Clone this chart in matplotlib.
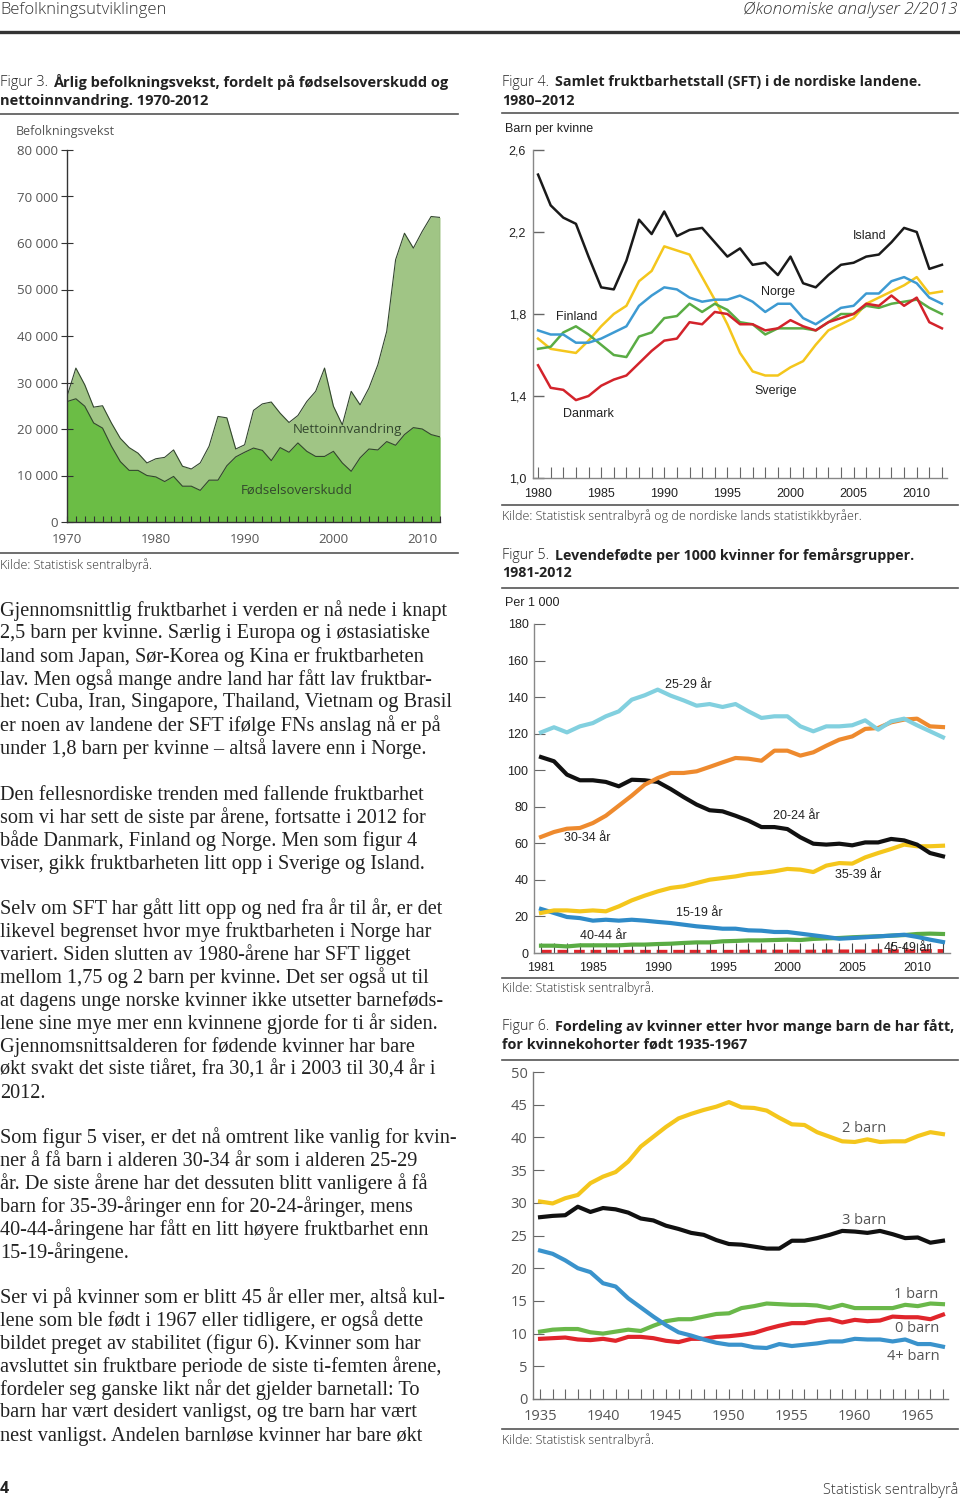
import matplotlib.pyplot as plt
from matplotlib.lines import Line2D

W, H = 960, 1502

# Figur 3: befolkningsvekst 1970-2012
years3 = list(range(1970, 2013))
fodsel = [25900, 26500, 24900, 21300, 20200, 16300, 13000, 11100, 11100, 10000,
          9700, 8700, 9800, 7700, 7700, 6800, 9000, 9000, 12100, 14000,
          15000, 15900, 15400, 13200, 16000, 15000, 17000, 15200, 14100, 14100,
          15200, 12700, 10900, 13800, 15700, 15500, 17300, 16500, 18800, 20300,
          20000, 18800, 18300]
total = [27000, 33100, 29500, 24700, 25000, 21300, 18000, 16000, 14800, 12700,
         13600, 13900, 15500, 12000, 11400, 12700, 16300, 22700, 22400, 15700,
         16600, 24000, 25400, 25800, 23400, 21400, 22900, 25900, 28100, 33100,
         24900, 20900, 28100, 25200, 28800, 33800, 41000, 56400, 62100, 58900,
         62500, 65700, 65500]

# Figur 4: SFT i de nordiske landene 1980-2012
years4 = list(range(1980, 2013))
island = [2.48, 2.33, 2.27, 2.24, 2.08, 1.93, 1.92, 2.06, 2.26, 2.19,
          2.30, 2.18, 2.21, 2.22, 2.15, 2.08, 2.12, 2.04, 2.05, 1.99,
          2.08, 1.95, 1.93, 1.99, 2.04, 2.05, 2.08, 2.09, 2.15, 2.22,
          2.20, 2.02, 2.04]
norge = [1.72, 1.70, 1.70, 1.66, 1.66, 1.68, 1.71, 1.74, 1.84, 1.89,
         1.93, 1.92, 1.88, 1.86, 1.87, 1.87, 1.89, 1.86, 1.81, 1.85,
         1.85, 1.78, 1.75, 1.79, 1.83, 1.84, 1.90, 1.90, 1.96, 1.98,
         1.95, 1.88, 1.85]
sverige = [1.68, 1.63, 1.62, 1.61, 1.67, 1.74, 1.80, 1.84, 1.96, 2.01,
           2.13, 2.11, 2.09, 1.98, 1.87, 1.75, 1.61, 1.52, 1.50, 1.50,
           1.54, 1.57, 1.65, 1.72, 1.75, 1.78, 1.85, 1.88, 1.91, 1.94,
           1.98, 1.90, 1.91]
finland = [1.63, 1.64, 1.71, 1.74, 1.70, 1.65, 1.60, 1.59, 1.69, 1.71,
           1.78, 1.79, 1.85, 1.81, 1.85, 1.82, 1.76, 1.75, 1.70, 1.73,
           1.73, 1.73, 1.72, 1.76, 1.80, 1.80, 1.84, 1.83, 1.85, 1.86,
           1.87, 1.83, 1.80]
danmark = [1.55, 1.44, 1.43, 1.38, 1.40, 1.45, 1.48, 1.50, 1.56, 1.62,
           1.67, 1.68, 1.76, 1.75, 1.81, 1.80, 1.75, 1.75, 1.72, 1.73,
           1.77, 1.74, 1.72, 1.76, 1.78, 1.80, 1.85, 1.84, 1.89, 1.84,
           1.88, 1.76, 1.73]

# Figur 5: levendefødte per 1000 kvinner 1981-2012
years5 = list(range(1981, 2013))
a2529 = [120.7, 123.5, 120.7, 124.0, 125.8, 129.5, 132.2, 138.6, 141.0,
         144.1, 140.8, 138.2, 135.3, 136.2, 134.6, 136.2, 132.2, 128.6, 129.5,
         129.5, 124.0, 121.3, 124.0, 124.0, 124.6, 127.3, 122.2, 126.7, 128.2,
         124.6, 121.3, 118.0]
a3034 = [63.5, 66.2, 68.0, 68.4, 71.1, 75.1, 80.6, 86.1, 92.1,
         95.7, 98.5, 98.5, 99.4, 101.8, 104.3, 106.7, 106.3, 105.2, 110.7,
         110.7, 108.0, 109.8, 113.4, 116.7, 118.5, 122.6, 123.1, 126.2, 127.7,
         128.2, 124.0, 123.6]
a2024 = [107.2, 104.9, 97.6, 94.5, 94.5, 93.6, 91.2, 94.8, 94.5,
         93.6, 89.7, 85.3, 81.2, 78.1, 77.5, 75.1, 72.4, 68.9, 68.9,
         67.8, 63.3, 59.8, 59.3, 59.8, 58.9, 60.5, 60.5, 62.4, 61.6,
         59.3, 54.7, 52.9]
a3539 = [21.9, 23.3, 23.3, 22.8, 23.3, 22.8, 25.5, 28.8, 31.4,
         33.7, 35.6, 36.5, 38.3, 40.1, 41.0, 41.9, 43.2, 43.8, 44.7,
         46.0, 45.6, 44.3, 47.8, 49.2, 48.9, 52.3, 54.7, 56.9, 59.3,
         58.4, 58.4, 58.7]
a1519 = [24.1, 21.9, 19.7, 19.1, 17.7, 18.2, 17.7, 18.2, 17.7,
         17.0, 16.4, 15.5, 14.6, 14.0, 13.3, 13.3, 12.4, 12.2, 11.5,
         11.5, 10.6, 9.7, 8.8, 7.8, 8.2, 8.6, 9.1, 9.5, 10.0,
         8.8, 7.3, 6.0]
a4044 = [4.0, 4.0, 3.6, 4.2, 4.2, 4.2, 4.2, 4.6, 4.6,
         4.9, 5.1, 5.5, 5.8, 5.8, 6.4, 6.6, 6.9, 6.9, 7.1,
         7.3, 7.1, 7.7, 8.0, 8.2, 8.6, 8.9, 9.1, 9.5, 9.8,
         10.4, 10.6, 10.4]
a4549 = [0.4, 0.4, 0.4, 0.4, 0.4, 0.4, 0.4, 0.4, 0.4,
         0.4, 0.4, 0.4, 0.4, 0.4, 0.4, 0.4, 0.5, 0.5, 0.5,
         0.5, 0.5, 0.5, 0.6, 0.6, 0.6, 0.6, 0.7, 0.7, 0.7,
         0.7, 0.8, 0.8]

# Figur 6: kvinner etter antall barn, kohorter 1935-1967
years6 = list(range(1935, 1968))
barn2 = [30.2, 29.9, 30.7, 31.2, 33.0, 34.0, 34.7, 36.3, 38.6, 40.1,
         41.6, 42.9, 43.6, 44.2, 44.7, 45.4, 44.6, 44.5, 44.1, 43.0,
         42.0, 41.9, 40.8, 40.1, 39.4, 39.3, 39.7, 39.3, 39.4, 39.4,
         40.2, 40.8, 40.5]
barn3 = [27.8, 28.0, 28.1, 29.4, 28.6, 29.2, 29.0, 28.5, 27.6, 27.3,
         26.5, 26.0, 25.4, 25.1, 24.3, 23.7, 23.6, 23.3, 23.0, 23.0,
         24.2, 24.2, 24.6, 25.1, 25.7, 25.6, 25.4, 25.7, 25.2, 24.6,
         24.7, 23.9, 24.2]
barn4 = [22.7, 22.2, 21.2, 20.0, 19.4, 17.7, 17.2, 15.4, 14.0, 12.6,
         11.3, 10.2, 9.7, 9.1, 8.6, 8.3, 8.3, 7.9, 7.8, 8.4,
         8.1, 8.3, 8.5, 8.8, 8.8, 9.2, 9.1, 9.1, 8.8, 9.1,
         8.4, 8.4, 8.0]
barn1 = [10.3, 10.6, 10.7, 10.7, 10.2, 10.0, 10.3, 10.6, 10.4, 11.2,
         11.9, 12.2, 12.2, 12.6, 13.0, 13.1, 13.9, 14.2, 14.6, 14.5,
         14.4, 14.4, 14.3, 13.9, 14.4, 13.9, 13.9, 13.9, 13.9, 14.4,
         14.2, 14.6, 14.5]
barn0 = [9.2, 9.3, 9.4, 9.1, 9.0, 9.2, 8.9, 9.5, 9.5, 9.3,
         8.9, 8.7, 9.2, 9.2, 9.5, 9.6, 9.8, 10.1, 10.7, 11.2,
         11.6, 11.6, 12.0, 12.2, 11.7, 12.1, 11.9, 12.0, 12.6, 12.5,
         12.5, 12.2, 12.9]

body = [
    (611, ["Gjennomsnittlig fruktbarhet i verden er nå nede i knapt",
           "2,5 barn per kvinne. Særlig i Europa og i østasiatiske",
           "land som Japan, Sør-Korea og Kina er fruktbarheten",
           "lav. Men også mange andre land har fått lav fruktbar-",
           "het: Cuba, Iran, Singapore, Thailand, Vietnam og Brasil",
           "er noen av landene der SFT ifølge FNs anslag nå er på",
           "under 1,8 barn per kvinne – altså lavere enn i Norge."]),
    (795, ["Den fellesnordiske trenden med fallende fruktbarhet",
           "som vi har sett de siste par årene, fortsatte i 2012 for",
           "både Danmark, Finland og Norge. Men som figur 4",
           "viser, gikk fruktbarheten litt opp i Sverige og Island."]),
    (909, ["Selv om SFT har gått litt opp og ned fra år til år, er det",
           "likevel begrenset hvor mye fruktbarheten i Norge har",
           "variert. Siden slutten av 1980-årene har SFT ligget",
           "mellom 1,75 og 2 barn per kvinne. Det ser også ut til",
           "at dagens unge norske kvinner ikke utsetter barneføds-",
           "lene sine mye mer enn kvinnene gjorde for ti år siden.",
           "Gjennomsnittsalderen for fødende kvinner har bare",
           "økt svakt det siste tiåret, fra 30,1 år i 2003 til 30,4 år i",
           "2012."]),
    (1138, ["Som figur 5 viser, er det nå omtrent like vanlig for kvin-",
            "ner å få barn i alderen 30-34 år som i alderen 25-29",
            "år. De siste årene har det dessuten blitt vanligere å få",
            "barn for 35-39-åringer enn for 20-24-åringer, mens",
            "40-44-åringene har fått en litt høyere fruktbarhet enn",
            "15-19-åringene."]),
    (1298, ["Ser vi på kvinner som er blitt 45 år eller mer, altså kul-",
            "lene som ble født i 1967 eller tidligere, er også dette",
            "bildet preget av stabilitet (figur 6). Kvinner som har",
            "avsluttet sin fruktbare periode de siste ti-femten årene,",
            "fordeler seg ganske likt når det gjelder barnetall: To",
            "barn har vært desidert vanligst, og tre barn har vært",
            "nest vanligst. Andelen barnløse kvinner har bare økt"]),
]

SANS = 'Open Sans'
ARIAL = 'Liberation Sans'
SERIF = 'Liberation Serif'
GREY = '#555555'

fig = plt.figure(figsize=(W / 100, H / 100), dpi=100)
fig.patch.set_facecolor('white')


def add_ax(x0, y0, x1, y1):
    # pixel box, y counted from the top of the page
    return fig.add_axes([x0 / W, 1 - y1 / H, (x1 - x0) / W, (y1 - y0) / H])


def txt(x, y, s, **kw):
    kw.setdefault('va', 'center')
    fig.text(x / W, 1 - y / H, s, **kw)


def hline(x0, x1, y, lw=1.2, color='#555555'):
    fig.add_artist(Line2D([x0 / W, x1 / W], [1 - y / H] * 2, lw=lw, color=color))


def style(ax, color='#777777'):
    ax.set_facecolor('none')
    for s in ['top', 'right']:
        ax.spines[s].set_visible(False)
    for s in ['left', 'bottom']:
        ax.spines[s].set_color(color)
        ax.spines[s].set_linewidth(1)


def title(x, y1, y2, num, line1, line2, size=10.4):
    txt(x, y1, num, fontsize=size, family=SANS, color='#222222', fontweight='light')
    txt(x + 53, y1, line1, fontsize=size, family=SANS, color='#222222', fontweight='bold')
    txt(x, y2, line2, fontsize=size, family=SANS, color='#222222', fontweight='bold')


# page header / footer
txt(0, 10, "Befolkningsutviklingen", fontsize=12, family=SANS, color='#333333', fontweight='light')
txt(958, 10, "Økonomiske analyser 2/2013", fontsize=12.5, family=SANS, color='#333333',
    style='italic', ha='right', fontweight='light')
hline(0, 958, 32, lw=2.4, color='#333333')
txt(0, 1489, "4", fontsize=11.5, family=SANS, fontweight='bold', color='#222222')
txt(958, 1490, "Statistisk sentralbyrå", fontsize=10.5, family=SANS, color='#333333',
    ha='right', fontweight='light')

# body text
for y0, lines in body:
    for i, line in enumerate(lines):
        txt(0, y0 + i * 23, line, fontsize=14.6, family=SERIF, color='#222222')

# ---------------- Figur 3 ----------------
title(0, 82, 101, "Figur 3.", "Årlig befolkningsvekst, fordelt på fødselsoverskudd og",
      "nettoinnvandring. 1970-2012", size=10.5)
hline(0, 458, 114)
txt(16, 131, "Befolkningsvekst", fontsize=9, family=SANS, color=GREY)
ax3 = add_ax(67, 150, 440, 522)
style(ax3, '#333333')
ax3.fill_between(years3, 0, total, color='#a0c585', lw=0)
ax3.fill_between(years3, 0, fodsel, color='#6bbd45', lw=0)
ax3.plot(years3, total, color='#33472e', lw=0.8)
ax3.plot(years3, fodsel, color='#33472e', lw=0.8)
ax3.plot([years3[-1]] * 2, [0, total[-1]], color='#33472e', lw=0.8)
ax3.set_xlim(1970, 2012)
ax3.set_ylim(0, 80000)
ax3.set_yticks(range(0, 80001, 10000))
ax3.set_yticklabels(['0' if v == 0 else f"{v // 1000} 000" for v in range(0, 80001, 10000)])
ax3.set_xticks(range(1970, 2011, 10))
ax3.set_xticks(years3, minor=True)
ax3.tick_params(axis='y', direction='inout', length=9, width=0.8, color='#333333',
                labelsize=9.5, labelcolor=GREY, pad=2)
ax3.tick_params(axis='x', which='both', direction='in', length=4, width=0.8,
                color='#333333', labelsize=9.5, labelcolor=GREY, pad=8)
for lab in ax3.get_xticklabels() + ax3.get_yticklabels():
    lab.set_family(SANS)
txt(347, 429, "Nettoinnvandring", fontsize=9.5, family=SANS, color='#33472e', ha='center')
txt(297, 490, "Fødselsoverskudd", fontsize=9.5, family=SANS, color='#33472e', ha='center')
hline(0, 458, 553)
txt(0, 565, "Kilde: Statistisk sentralbyrå.", fontsize=9, family=SANS, color='#333333',
    fontweight='light')

# ---------------- Figur 4 ----------------
title(502, 82, 101, "Figur 4.", "Samlet fruktbarhetstall (SFT) i de nordiske landene.",
      "1980–2012", size=10.3)
hline(502, 958, 113)
txt(505, 129, "Barn per kvinne", fontsize=9, family=ARIAL, color='#222222')
ax4 = add_ax(533, 150, 947, 478)
style(ax4, '#888888')
ax4.plot(years4, island, color='#1a1a1a', lw=1.8)
ax4.plot(years4, sverige, color='#f4c61c', lw=1.8)
ax4.plot(years4, finland, color='#5aac44', lw=1.8)
ax4.plot(years4, norge, color='#3d9ad2', lw=1.8)
ax4.plot(years4, danmark, color='#d3232b', lw=1.8)
ax4.set_xlim(1979.6, 2012.4)
ax4.set_ylim(1.0, 2.6)
ax4.set_yticks([1.0, 1.4, 1.8, 2.2, 2.6])
ax4.set_yticklabels(['1,0', '1,4', '1,8', '2,2', '2,6'])
ax4.set_xticks(range(1980, 2011, 5))
ax4.set_xticks(years4, minor=True)
ax4.tick_params(axis='y', direction='in', length=8, width=1, color='#666666',
                labelsize=9, labelcolor='#222222', pad=5)
ax4.tick_params(axis='x', which='both', direction='in', length=8, width=0.8,
                color='#666666', labelsize=9, labelcolor='#222222', pad=7)
for lab in ax4.get_xticklabels() + ax4.get_yticklabels():
    lab.set_family(ARIAL)
for name, x, y in [("Island", 870, 236), ("Norge", 778, 292), ("Finland", 577, 317),
                   ("Sverige", 776, 391), ("Danmark", 588, 414)]:
    txt(x, y, name, fontsize=9, family=ARIAL, color='#222222', ha='center')
hline(502, 958, 505)
txt(502, 516, "Kilde: Statistisk sentralbyrå og de nordiske lands statistikkbyråer.",
    fontsize=9, family=SANS, color='#333333', fontweight='light')

# ---------------- Figur 5 ----------------
title(502, 555, 573, "Figur 5.", "Levendefødte per 1000 kvinner for femårsgrupper.",
      "1981-2012", size=10.3)
hline(502, 958, 588)
txt(505, 603, "Per 1 000", fontsize=9, family=ARIAL, color='#222222')
ax5 = add_ax(534, 624, 950, 953)
style(ax5, '#888888')
ax5.plot(years5, a4549, color='#e0252b', lw=3.5, ls=(0, (2.2, 1.2)), zorder=1)
ax5.plot(years5, a4044, color='#5aac44', lw=3)
ax5.plot(years5, a1519, color='#2f8bc8', lw=3)
ax5.plot(years5, a3539, color='#f4c61c', lw=3)
ax5.plot(years5, a2024, color='#111111', lw=3)
ax5.plot(years5, a3034, color='#ee8a2e', lw=3)
ax5.plot(years5, a2529, color='#82d0df', lw=3)
ax5.set_xlim(1980.46, 2012.54)
ax5.set_ylim(0, 180)
ax5.set_yticks(range(0, 181, 20))
ax5.set_xticks([1981, 1985, 1990, 1995, 2000, 2005, 2010])
ax5.set_xticks(years5, minor=True)
ax5.tick_params(axis='y', direction='in', length=8, width=0.8, color='#666666',
                labelsize=9, labelcolor='#222222', pad=4)
ax5.tick_params(axis='x', which='both', direction='in', length=7, width=0.8,
                color='#444444', labelsize=9, labelcolor='#222222', pad=6.5)
for lab in ax5.get_xticklabels() + ax5.get_yticklabels():
    lab.set_family(ARIAL)
for name, x, y in [("25-29 år", 688, 685), ("30-34 år", 587, 838), ("20-24 år", 796, 816),
                   ("35-39 år", 858, 875), ("15-19 år", 699, 913), ("40-44 år", 603, 936),
                   ("45-49 år", 907, 948)]:
    txt(x, y, name, fontsize=9, family=ARIAL, color='#222222', ha='center')
hline(502, 958, 978)
txt(502, 988, "Kilde: Statistisk sentralbyrå.", fontsize=9, family=SANS, color='#333333',
    fontweight='light')

# ---------------- Figur 6 ----------------
title(502, 1027, 1045, "Figur 6.", "Fordeling av kvinner etter hvor mange barn de har fått,",
      "for kvinnekohorter født 1935-1967", size=10.35)
hline(502, 958, 1060)
ax6 = add_ax(533, 1072, 948, 1399)
style(ax6, '#777777')
ax6.plot(years6, barn0, color='#e0252b', lw=3)
ax6.plot(years6, barn1, color='#6ab84a', lw=3)
ax6.plot(years6, barn4, color='#3a93cc', lw=3)
ax6.plot(years6, barn3, color='#111111', lw=3)
ax6.plot(years6, barn2, color='#f4c61c', lw=3)
ax6.set_xlim(1934.44, 1967.4)
ax6.set_ylim(0, 50)
ax6.set_yticks(range(0, 51, 5))
ax6.set_xticks(range(1935, 1966, 5))
ax6.set_xticks(years6, minor=True)
ax6.tick_params(axis='y', direction='in', length=8, width=0.8, color='#666666',
                labelsize=10.5, labelcolor=GREY, pad=4)
ax6.tick_params(axis='x', which='both', direction='in', length=7, width=0.8,
                color='#666666', labelsize=10.5, labelcolor=GREY, pad=7)
for lab in ax6.get_xticklabels() + ax6.get_yticklabels():
    lab.set_family(SANS)
for name, x, y in [("2 barn", 864, 1129), ("3 barn", 864, 1221), ("1 barn", 916, 1294),
                   ("0 barn", 917, 1328), ("4+ barn", 913, 1356)]:
    txt(x, y, name, fontsize=10.5, family=SANS, color=GREY, ha='center')
hline(502, 958, 1429)
txt(502, 1440, "Kilde: Statistisk sentralbyrå.", fontsize=9, family=SANS, color='#333333',
    fontweight='light')

fig.savefig('out.png', dpi=100)
